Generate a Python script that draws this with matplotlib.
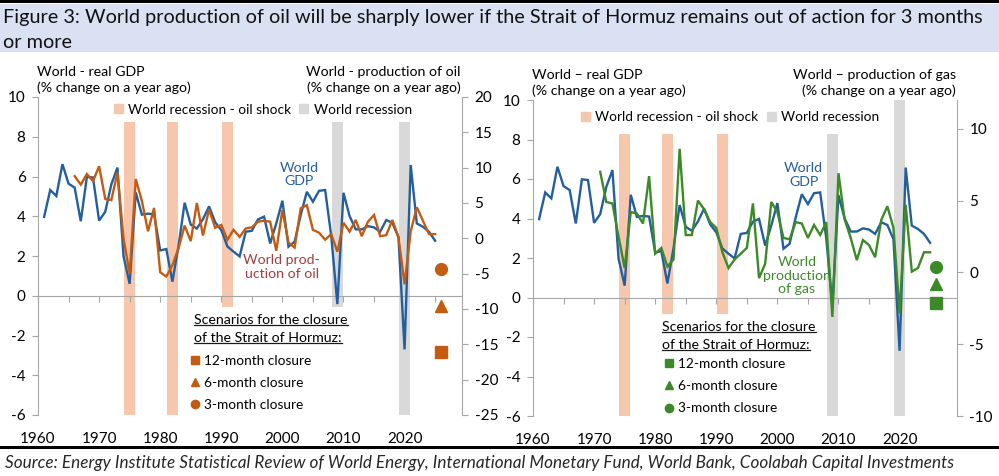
import matplotlib
matplotlib.use("Agg")
import matplotlib.pyplot as plt
from matplotlib.patches import Patch, Rectangle
from matplotlib.lines import Line2D
import numpy as np

plt.rcParams['font.family'] = ['Lato', 'DejaVu Sans']
plt.rcParams['axes.unicode_minus'] = False

# ---------------- data ----------------
gdp_years = list(range(1961, 2026))
gdp = [3.97, 5.32, 5.02, 6.62, 5.64, 5.44, 3.75, 5.98, 5.95, 3.78,
       4.22, 5.60, 6.45, 1.98, 0.60, 5.20, 4.08, 4.13, 4.10, 2.28,
       2.35, 0.71, 2.50, 4.68, 3.58, 3.38, 3.85, 4.50, 3.70, 3.30,
       2.48, 2.22, 1.98, 3.22, 3.27, 3.84, 3.98, 2.63, 3.64, 4.78,
       2.47, 2.72, 4.06, 5.23, 4.73, 5.28, 5.32, 3.00, -0.42, 5.18,
       4.01, 3.34, 3.34, 3.50, 3.44, 3.22, 3.81, 3.67, 2.95, -2.70,
       6.58, 3.64, 3.47, 3.22, 2.77]

oil_years = list(range(1966, 2026))
oil = [8.8, 7.6, 9.1, 8.1, 10.2, 5.6, 5.4, 9.3, 0.0, -5.0,
       8.4, 5.3, 1.0, 4.3, -4.8, -5.4, -3.8, -1.4, 1.8, -0.4,
       5.0, 0.4, 4.1, 1.5, 1.9, -0.2, 1.2, 0.2, 1.4, 1.55,
       2.35, 2.5, 2.35, -1.75, 4.0, -0.6, -1.3, 4.25, 4.7, 1.2,
       0.8, -0.2, 0.6, -1.9, 2.2, 0.95, 2.6, 0.3, 2.35, 3.3,
       0.3, 0.45, 2.6, 0.15, -6.5, 0.95, 4.4, 2.5, 0.6, 0.6]

gas_years = list(range(1971, 2026))
gas = [7.0, 4.9, 4.8, 2.5, 0.3, 4.2, 4.1, 3.4, 6.7, 1.3,
       1.7, 0.4, 0.9, 8.6, 2.6, 2.6, 5.0, 4.4, 3.5, 3.1,
       1.4, 0.3, 0.9, 1.3, 1.7, 4.8, -0.4, 0.6, 4.9, 4.2,
       2.4, 2.3, 3.5, 3.4, 2.4, 3.3, 2.6, 3.5, -3.1, 6.9,
       3.7, 2.4, 0.85, 2.25, 1.9, 1.05, 3.65, 4.6, 3.1, -2.85,
       4.7, 0.05, 0.3, 1.4, 1.4]

scenario_year = 2026
scenario_labels = ['12-month closure', '6-month closure', '3-month closure']
scenario_markers = ['s', '^', 'o']
oil_scenarios = [-16.1, -9.6, -4.4]
gas_scenarios = [-2.15, -0.82, 0.4]

oil_shock_years = [1975, 1982, 1991]
recession_years = [2009, 2020]
bar_width = 1.9
# shaded band extents (left-axis units): bottoms and tops per panel
left_shock_bottom = [-6, -6, -0.57]
left_rec_bottom = [-0.57, -6]
left_top = 8.75
right_shock_bottom = [-6, -0.84, -0.84]
right_rec_bottom = [-6, -6]
right_shock_top = [8.28, 8.28, 8.28]
right_rec_top = [8.28, 10.0]

# ---------------- style ----------------
W, H = 999, 476
BLUE = '#235f9e'
ORANGE = '#c55a11'
GREEN = '#3b8a27'
SHOCK = '#f7c7ad'
GREY = '#d9d9d9'
SPINE = '#a6a6a6'
OILTXT = '#a33d3d'
FS = 10.2


def fx(x):
    return x / W


def fy(y):
    return 1 - y / H


fig = plt.figure(figsize=(W / 100, H / 100), dpi=100)
fig.patch.set_facecolor('white')

# title band and rules
fig.patches.append(Rectangle((0, fy(52)), 1, 48 / H, transform=fig.transFigure,
                             facecolor='#d9e1f2', edgecolor='none', zorder=0))
fig.patches.append(Rectangle((0, fy(3)), 1, 3 / H, transform=fig.transFigure,
                             facecolor='black', edgecolor='none', zorder=1))
fig.patches.append(Rectangle((0, fy(449)), 1, 3 / H, transform=fig.transFigure,
                             facecolor='black', edgecolor='none', zorder=1))

fig.text(fx(3), fy(18), 'Figure 3: World production of oil will be sharply lower if the Strait of Hormuz '
         'remains out of action for 3 months', fontsize=14.3, va='center', ha='left', color='#111111')
fig.text(fx(3), fy(42), 'or more', fontsize=14.3, va='center', ha='left', color='#111111')

fig.text(fx(5), fy(463), 'Source: Energy Institute Statistical Review of World Energy, International Monetary Fund, '
         'World Bank, Coolabah Capital Investments', fontsize=12.3, style='italic',
         va='center', ha='left', color='#262626')

underlines = []


def make_panel(rect, ylim2, yticks2, second, second_years, second_color,
               shock_bottom, shock_top, rec_bottom, rec_top,
               scen_vals, title_left, title_right, leg_anchor, scen_anchor,
               scen_title_xy, scen_title_dy, gdp_txt_xy, sec_txt, sec_txt_xy, sec_txt_color):
    ax = fig.add_axes(rect)
    ax2 = ax.twinx()
    ax.set_xlim(1960, 2029.4)
    ax.set_ylim(-6, 10)
    ax2.set_ylim(*ylim2)
    ax.set_yticks(range(-6, 11, 2))
    ax2.set_yticks(yticks2)

    # bands
    ax.bar(oil_shock_years, np.array(shock_top) - np.array(shock_bottom), bottom=shock_bottom,
           width=bar_width, color=SHOCK, zorder=1)
    ax.bar(recession_years, np.array(rec_top) - np.array(rec_bottom), bottom=rec_bottom,
           width=bar_width, color=GREY, zorder=1)

    ax.plot(gdp_years, gdp, color=BLUE, lw=1.7, zorder=3, solid_joinstyle='miter')
    ax2.plot(second_years, second, color=second_color, lw=1.7, zorder=3, solid_joinstyle='miter')
    for v, m in zip(scen_vals, scenario_markers):
        ax2.plot([scenario_year], [v], marker=m, ms=8.5 if m != '^' else 8, color=second_color, ls='none')

    for a in (ax, ax2):
        a.spines['top'].set_visible(False)
        a.set_facecolor('none')
    ax.spines['bottom'].set_position(('data', 0))
    ax.spines['bottom'].set_color(SPINE)
    ax.spines['left'].set_color(SPINE)
    ax.spines['right'].set_visible(False)
    ax2.spines['left'].set_visible(False)
    ax2.spines['bottom'].set_visible(False)
    ax2.spines['right'].set_color(SPINE)
    ax.set_xticks(range(1960, 2030, 5))
    ax.tick_params(axis='x', direction='out', length=4, color=SPINE, labelbottom=False)
    ax.tick_params(axis='y', direction='out', length=4, color=SPINE, labelsize=11, pad=5)
    ax2.tick_params(axis='y', direction='out', length=4, color=SPINE, labelsize=11, pad=5)

    sec = ax.secondary_xaxis('bottom')
    sec.set_xticks(range(1960, 2021, 10))
    sec.tick_params(length=0, pad=12, labelsize=11)
    sec.spines['bottom'].set_visible(False)

    # axis titles
    x0 = rect[0] * W
    x1 = (rect[0] + rect[2]) * W
    ytop = (1 - rect[1] - rect[3]) * H
    fig.text(fx(x0 - 1), fy(ytop - 25), title_left[0], fontsize=FS, va='center', ha='left')
    fig.text(fx(x0 - 1), fy(ytop - 9), title_left[1], fontsize=FS, va='center', ha='left')
    fig.text(fx(x1 - 1), fy(ytop - 25), title_right[0], fontsize=FS, va='center', ha='right')
    fig.text(fx(x1 - 1), fy(ytop - 9), title_right[1], fontsize=FS, va='center', ha='right')

    # recession legend
    leg1 = ax2.legend(handles=[Patch(color=SHOCK, label='World recession - oil shock'),
                               Patch(color=GREY, label='World recession')],
                      loc='center', bbox_to_anchor=leg_anchor, ncol=2, frameon=False,
                      fontsize=9.8, handlelength=0.65, handleheight=0.65, handletextpad=0.4,
                      columnspacing=0.6, borderpad=0, borderaxespad=0)
    ax2.add_artist(leg1)

    # scenario legend
    handles = [Line2D([], [], marker=m, color=second_color, ls='none', ms=6 if m != '^' else 5.5)
               for m in scenario_markers]
    ax2.legend(handles=handles, labels=scenario_labels, loc='upper left', bbox_to_anchor=scen_anchor,
               frameon=False, fontsize=9.8, handlelength=0.6, handletextpad=0.4,
               labelspacing=0.75, borderpad=0, borderaxespad=0)

    t1 = fig.text(fx(scen_title_xy[0]), fy(scen_title_xy[1]), 'Scenarios for the closure',
                  fontsize=FS, va='center', ha='left')
    t2 = fig.text(fx(scen_title_xy[0]), fy(scen_title_xy[1] + scen_title_dy), 'of the Strait of Hormuz:',
                  fontsize=FS, va='center', ha='left')
    underlines.extend([t1, t2])

    ax.text(gdp_txt_xy[0], gdp_txt_xy[1], 'World\nGDP', color=BLUE, fontsize=FS,
            ha='center', va='center', linespacing=1.15, zorder=4)
    ax.text(sec_txt_xy[0], sec_txt_xy[1], sec_txt, color=sec_txt_color, fontsize=FS,
            ha='center', va='center', linespacing=1.15, zorder=4)
    return ax, ax2


make_panel([fx(38), fy(415), 424 / W, 318 / H], (-25, 20), range(-25, 21, 5), oil, oil_years, ORANGE,
           left_shock_bottom, [left_top] * 3, left_rec_bottom, [left_top] * 2,
           oil_scenarios, ('World - real GDP', '(% change on a year ago)'),
           ('World - production of oil', '(% change on a year ago)'),
           (0.53, 0.96), (0.36, 0.19), (194, 320), 18, (2002.8, 6.1),
           'World prod-\nuction of oil', (1999.9, 1.45), OILTXT)

make_panel([fx(533), fy(416), 424 / W, 316 / H], (-10, 12), range(-10, 11, 5), gas, gas_years, GREEN,
           right_shock_bottom, right_shock_top, right_rec_bottom, right_rec_top,
           gas_scenarios, ('World \u2013 real GDP', '(% change on a year ago)'),
           ('World \u2013 production of gas', '(% change on a year ago)'),
           (0.465, 0.946), (0.31, 0.184), (662, 327), 18, (2004.3, 6.2),
           'World\nproduction\nof gas', (2003.2, 1.1), GREEN)

fig.canvas.draw()
r = fig.canvas.get_renderer()
for t in underlines:
    bb = t.get_window_extent(renderer=r)
    yb = bb.y0 + 1
    fig.add_artist(Line2D([bb.x0 / W, bb.x1 / W], [yb / H, yb / H], transform=fig.transFigure,
                          color='#1a1a1a', lw=0.9))

fig.savefig('out.png', dpi=100)
